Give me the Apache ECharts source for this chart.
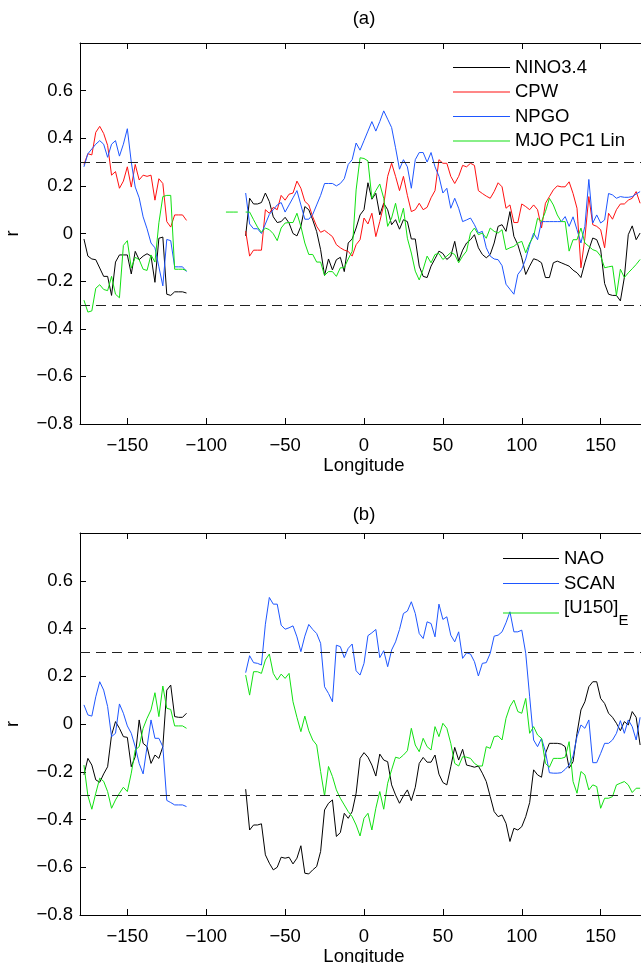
<!DOCTYPE html>
<html><head><meta charset="utf-8">
<script src="https://cdn.jsdelivr.net/npm/echarts@6/dist/echarts.min.js"></script>
<style>html,body{margin:0;padding:0;background:#fff}#c{width:641px;height:963px}</style>
</head><body><div id="c"></div>
<script>
// ---------- axis tick values ----------
const xTicks = [-150, -100, -50, 0, 50, 100, 150];
const thresholds = [0.3, -0.3];

// ---------- longitude grids (2.5 degree spacing) ----------
function lonRange(a, b) { const r = []; for (let v = a; v <= b + 1e-9; v += 2.5) r.push(+v.toFixed(1)); return r; }
const lonWest = lonRange(-177.5, -112.5);   // 27 points
const lonMid = [-87.5, -85, -82.5, -80];
const lonEast = lonRange(-75, 175);         // 101 points

// ---------- panel (a) ----------
const nino34West = [-0.023,-0.095,-0.107,-0.11,-0.145,-0.18,-0.18,-0.26,-0.12,-0.09,-0.09,-0.09,-0.17,-0.075,-0.11,-0.095,-0.085,-0.095,-0.205,-0.02,-0.015,-0.255,-0.26,-0.245,-0.245,-0.245,-0.25];
const nino34East = [-0.01,0.148,0.124,0.124,0.13,0.17,0.134,0.07,0.046,0.05,0.068,0.044,0.0,-0.01,0.03,0.113,0.10,0.057,0.008,-0.068,-0.176,-0.107,-0.153,-0.11,-0.10,-0.16,-0.04,-0.023,0.023,0.078,0.10,0.213,0.144,0.169,0.078,0.127,0.10,0.037,0.058,0.018,0.058,0.05,-0.023,-0.023,-0.137,
 -0.18,-0.185,-0.137,-0.106,-0.074,-0.084,-0.109,-0.095,-0.033,-0.116,-0.07,-0.04,-0.026,-0.005,-0.06,-0.088,-0.102,-0.088,-0.04,0.03,0.037,0.009,0.092,-0.012,-0.047,-0.102,-0.172,-0.137,-0.106,-0.112,-0.123,-0.185,-0.185,-0.123,-0.116,-0.123,-0.13,-0.137,-0.154,-0.165,-0.185,-0.123,-0.068,-0.019,-0.026,-0.068,-0.21,-0.255,-0.26,-0.26,-0.283,-0.185,-0.005,0.032,-0.026,0.002];
const cpwWest = [0.29,0.335,0.33,0.425,0.45,0.42,0.37,0.245,0.26,0.19,0.22,0.28,0.195,0.29,0.225,0.245,0.24,0.245,0.14,0.23,0.21,0.05,0.027,0.078,0.078,0.078,0.055];
const cpwEast = [0.01,-0.095,-0.07,-0.07,-0.07,0.10,0.085,0.11,0.10,0.16,0.14,0.165,0.17,0.22,0.19,0.135,0.12,0.07,0.03,0.005,0.013,0.0,-0.013,-0.047,-0.06,-0.07,-0.075,-0.095,-0.047,-0.026,0.065,0.04,0.085,-0.013,0.05,0.12,0.24,0.295,0.24,0.18,0.24,0.16,0.092,0.10,0.127,
 0.10,0.11,0.15,0.18,0.31,0.295,0.295,0.24,0.21,0.24,0.286,0.28,0.295,0.286,0.18,0.168,0.157,0.148,0.176,0.213,0.196,0.106,0.12,0.046,0.046,0.124,0.113,0.1,0.12,0.1,0.023,0.127,0.155,0.183,0.2,0.196,0.196,0.217,0.168,0.106,-0.144,-0.02,0.155,0.037,0.03,0.016,-0.06,0.085,0.06,0.1,0.124,0.124,0.14,0.148,0.176,0.127];
const npgoWest = [0.28,0.335,0.355,0.375,0.39,0.375,0.32,0.375,0.39,0.325,0.375,0.44,0.30,0.195,0.15,0.07,0.02,-0.04,-0.06,-0.14,-0.22,-0.025,-0.03,-0.14,-0.14,-0.14,-0.16];
const npgoEast = [0.17,0.04,0.02,0.02,0.0,0.04,0.08,0.10,0.12,0.13,0.09,0.12,0.15,0.18,0.12,0.06,0.06,0.08,0.12,0.16,0.21,0.21,0.21,0.20,0.21,0.23,0.29,0.31,0.38,0.35,0.39,0.43,0.47,0.43,0.47,0.515,0.48,0.445,0.36,0.27,0.31,0.28,0.19,0.31,0.34,
 0.34,0.30,0.34,0.28,0.24,0.17,0.19,0.106,0.148,0.106,0.05,0.057,0.065,0.037,0.002,0.009,-0.06,-0.095,-0.107,-0.11,-0.135,-0.213,-0.234,-0.255,-0.172,-0.15,-0.107,-0.047,0.002,-0.026,0.05,0.05,0.05,0.05,0.05,0.05,0.071,0.03,0.07,0.016,-0.04,0.03,0.227,0.044,0.078,0.044,0.057,0.168,0.162,0.148,0.155,0.152,0.152,0.155,0.166,0.176];
const mjoWest = [-0.28,-0.33,-0.325,-0.23,-0.215,-0.235,-0.24,-0.18,-0.255,-0.27,-0.05,-0.03,-0.145,-0.10,-0.11,-0.15,-0.155,-0.09,-0.12,0.045,0.155,0.16,0.16,-0.15,-0.15,-0.15,-0.155];
const mjoMid = [0.09,0.09,0.09,0.09];
const mjoEast = [0.09,0.09,0.058,0.027,0.005,0.023,0.016,-0.001,-0.03,0.023,0.044,0.046,0.046,0.085,0.03,-0.04,-0.088,-0.088,-0.12,-0.12,-0.176,-0.16,-0.16,-0.18,-0.144,-0.144,-0.107,-0.075,0.183,0.318,0.315,0.305,0.148,0.18,0.208,0.148,0.03,0.065,0.127,0.046,0.106,-0.02,-0.082,-0.158,-0.195,
 -0.15,-0.095,-0.123,-0.088,-0.084,-0.109,-0.095,-0.08,-0.088,-0.123,-0.095,-0.074,0.002,0.023,-0.005,0.002,-0.02,0.023,0.009,0.002,0.016,-0.068,-0.06,-0.054,-0.04,-0.033,-0.081,-0.04,-0.012,0.064,0.05,0.092,0.148,0.12,0.078,0.05,0.05,-0.074,-0.026,-0.026,0.023,-0.04,-0.054,-0.068,-0.074,-0.095,-0.144,-0.14,-0.137,-0.26,-0.15,-0.185,-0.165,-0.148,-0.13,-0.109];

// ---------- panel (b) ----------
const naoWest = [-0.213,-0.144,-0.172,-0.234,-0.244,-0.209,-0.179,-0.046,0.01,-0.018,-0.053,-0.056,-0.179,-0.137,0.017,-0.081,-0.095,-0.165,-0.13,-0.144,-0.095,0.142,0.163,0.031,0.028,0.028,0.045];
const naoEast = [-0.273,-0.444,-0.423,-0.423,-0.418,-0.548,-0.583,-0.611,-0.6,-0.558,-0.562,-0.558,-0.586,-0.562,-0.51,-0.625,-0.628,-0.611,-0.597,-0.534,-0.36,-0.332,-0.318,-0.471,-0.455,-0.374,-0.395,-0.367,-0.29,-0.144,-0.12,-0.139,-0.172,-0.218,-0.126,-0.151,-0.158,-0.255,-0.297,-0.332,-0.301,-0.276,-0.321,-0.265,-0.165,
 -0.14,-0.16,-0.16,-0.13,-0.21,
 -0.245,-0.255,-0.179,-0.098,-0.151,-0.106,-0.172,-0.176,-0.181,-0.176,-0.206,-0.241,-0.304,-0.367,-0.388,-0.381,-0.416,-0.492,-0.437,-0.444,-0.43,-0.388,-0.329,-0.192,-0.213,-0.223,-0.123,-0.081,-0.081,-0.081,-0.084,-0.095,-0.185,-0.158,-0.039,0.059,0.093,0.156,0.177,0.177,0.107,0.086,0.045,0.028,0.003,-0.028,0.01,-0.004,0.052,0.028,-0.088];
const scanWest = [0.08,0.038,0.033,0.114,0.177,0.142,0.073,-0.053,-0.039,0.084,0.045,-0.008,-0.039,-0.095,-0.165,-0.209,-0.095,0.017,-0.06,-0.06,-0.095,-0.32,-0.329,-0.339,-0.339,-0.339,-0.346];
const scanEast = [0.215,0.286,0.257,0.254,0.247,0.418,0.53,0.502,0.502,0.414,0.397,0.403,0.411,0.365,0.303,0.368,0.417,0.396,0.379,0.338,0.156,0.128,0.093,0.33,0.324,0.278,0.317,0.335,0.223,0.205,0.254,0.37,0.382,0.396,0.278,0.307,0.24,0.31,0.344,0.396,0.463,0.473,0.512,0.463,0.379,
 0.358,0.428,0.421,0.365,0.502,
 0.438,0.449,0.372,0.344,0.386,0.275,0.298,0.293,0.261,0.201,0.254,0.257,0.296,0.368,0.372,0.386,0.424,0.47,0.386,0.386,0.393,0.296,0.114,-0.067,-0.095,-0.06,-0.116,-0.204,-0.206,-0.206,-0.204,-0.19,-0.172,-0.134,-0.053,-0.004,-0.018,0.017,-0.162,-0.162,-0.123,-0.081,-0.081,-0.067,-0.039,0.014,-0.039,0.017,-0.011,-0.067,0.028];
const u150West = [-0.172,-0.30,-0.357,-0.29,-0.227,-0.24,-0.283,-0.353,-0.318,-0.29,-0.265,-0.283,-0.206,-0.109,-0.095,-0.018,0.024,0.059,0.131,0.031,0.159,0.066,0.061,-0.008,-0.008,-0.008,-0.018];
const u150East = [0.205,0.121,0.219,0.219,0.212,0.268,0.293,0.212,0.184,0.209,0.191,0.212,0.093,0.028,-0.032,0.033,-0.028,-0.067,-0.088,-0.199,-0.301,-0.178,-0.22,-0.276,-0.311,-0.339,-0.367,-0.388,-0.423,-0.469,-0.395,-0.374,-0.444,-0.353,-0.283,-0.357,-0.248,-0.192,-0.139,-0.144,-0.13,-0.112,-0.018,-0.088,-0.116,
 -0.06,-0.095,-0.109,-0.011,-0.053,
 0.003,-0.018,-0.081,-0.165,-0.176,-0.137,-0.139,-0.144,-0.165,-0.176,-0.176,-0.095,-0.102,-0.053,-0.05,-0.067,0.024,0.073,0.1,0.052,0.045,0.107,-0.039,-0.011,-0.046,-0.06,-0.165,-0.181,-0.144,-0.144,-0.144,-0.139,-0.074,-0.241,-0.29,-0.199,-0.213,-0.276,-0.255,-0.262,-0.353,-0.311,-0.311,-0.304,-0.255,-0.248,-0.241,-0.255,-0.287,-0.269,-0.269];

// ---------- build ----------
function build(west, east, mid) {
  const d = [];
  west.forEach((v, i) => d.push([lonWest[i], v]));
  d.push([-100, '-']);
  if (mid) { mid.forEach((v, i) => d.push([lonMid[i], v])); d.push([-77.5, '-']); }
  east.forEach((v, i) => d.push([lonEast[i], v]));
  return d;
}
const FF = '"Liberation Sans", Arial, Helvetica, sans-serif';
const FS = 18.5;
const C = { k: '#000000', r: '#ff1010', b: '#1e56ff', g: '#12e012' };
const fmtX = v => v < 0 ? '\u2212' + Math.abs(v) : String(v);
const fmtY = v => { const r = Math.round(v * 10) / 10; if (r >= 0.79) return ''; if (r === 0) return '0'; return (r < 0 ? '\u2212' : '') + Math.abs(r).toFixed(1); };

const grids = [
  { left: 80, top: 43, width: 568, height: 381, containLabel: false, outerBoundsMode: 'none' },
  { left: 80, top: 533, width: 568, height: 382, containLabel: false, outerBoundsMode: 'none' }
];
const xAxes = [], yAxes = [];
grids.forEach((g, gi) => {
  const line = { show: true, onZero: false, lineStyle: { color: '#000', width: 1 } };
  xAxes.push({ gridIndex: gi, type: 'value', min: -180, max: 180, position: 'bottom', axisLine: line,
    axisTick: { show: true, inside: true, length: 6, customValues: xTicks, lineStyle: { color: '#000' } },
    axisLabel: { customValues: xTicks, formatter: fmtX, color: '#000', fontSize: FS, fontFamily: FF, margin: 12 },
    splitLine: { show: false }, name: 'Longitude', nameLocation: 'middle', nameGap: 32,
    nameTextStyle: { color: '#000', fontSize: FS, fontFamily: FF } });
  xAxes.push({ gridIndex: gi, type: 'value', min: -180, max: 180, position: 'top', axisLine: line,
    axisTick: { show: true, inside: true, length: 6, customValues: xTicks, lineStyle: { color: '#000' } },
    axisLabel: { show: false }, splitLine: { show: false } });
  yAxes.push({ gridIndex: gi, type: 'value', min: -0.8, max: 0.8, interval: 0.2, position: 'left', axisLine: line,
    axisTick: { show: true, inside: true, length: 6, lineStyle: { color: '#000' } },
    axisLabel: { formatter: fmtY, color: '#000', fontSize: FS, fontFamily: FF, margin: 7 },
    splitLine: { show: false }, name: 'r', nameLocation: 'middle', nameGap: 58,
    nameTextStyle: { color: '#000', fontSize: FS, fontFamily: FF } });
  yAxes.push({ gridIndex: gi, type: 'value', min: -0.8, max: 0.8, interval: 0.2, position: 'right', axisLine: line,
    axisTick: { show: true, inside: true, length: 6, lineStyle: { color: '#000' } },
    axisLabel: { show: false }, splitLine: { show: false } });
});

function ser(name, color, data, gi, withMark) {
  const s = { name, type: 'line', data, xAxisIndex: gi * 2, yAxisIndex: gi * 2, showSymbol: false, symbol: 'none',
    connectNulls: false, lineStyle: { color, width: 1 }, itemStyle: { color }, z: 3, animation: false };
  if (withMark) s.markLine = { silent: true, symbol: ['none', 'none'], label: { show: false },
    lineStyle: { color: '#222', width: 1, type: [10, 6] }, data: thresholds.map(t => ({ yAxis: t })) };
  return s;
}
const series = [
  ser('NINO3.4', C.k, build(nino34West, nino34East), 0, true),
  ser('CPW', C.r, build(cpwWest, cpwEast), 0),
  ser('NPGO', C.b, build(npgoWest, npgoEast), 0),
  ser('MJO PC1 Lin', C.g, build(mjoWest, mjoEast, mjoMid), 0),
  ser('NAO', C.k, build(naoWest, naoEast), 1, true),
  ser('SCAN', C.b, build(scanWest, scanEast), 1),
  ser('[U150]_E', C.g, build(u150West, u150East), 1)
];

const chart = echarts.init(document.getElementById('c'), null, { renderer: 'canvas' });
chart.setOption({
  backgroundColor: '#fff',
  animation: false,
  title: [
    { text: '(a)', left: 364, top: 9, textAlign: 'center', padding: 0, textStyle: { fontSize: FS, fontWeight: 'normal', color: '#000', fontFamily: FF } },
    { text: '(b)', left: 364, top: 505, textAlign: 'center', padding: 0, textStyle: { fontSize: FS, fontWeight: 'normal', color: '#000', fontFamily: FF } }
  ],
  legend: [
    { data: ['NINO3.4', 'CPW', 'NPGO', 'MJO PC1 Lin'], orient: 'vertical', left: 453, top: 57, padding: 0,
      icon: 'rect', itemWidth: 57, itemHeight: 1, itemGap: 3.5, selectedMode: false,
      textStyle: { fontSize: FS, lineHeight: 21, color: '#000', fontFamily: FF } },
    { data: ['NAO', 'SCAN', '[U150]_E'], orient: 'vertical', left: 503, top: 548, padding: 0,
      icon: 'rect', itemWidth: 56, itemHeight: 1, itemGap: 4, selectedMode: false,
      formatter: n => n === '[U150]_E' ? '{m|[U150]}{s|E}' : n,
      textStyle: { fontSize: FS, lineHeight: 21, color: '#000', fontFamily: FF,
        rich: { m: { fontSize: FS, fontFamily: FF, color: '#000', verticalAlign: 'top', lineHeight: 21 },
                s: { fontSize: 15, fontFamily: FF, color: '#000', verticalAlign: 'bottom', lineHeight: 30 } } } }
  ],
  grid: grids,
  xAxis: xAxes,
  yAxis: yAxes,
  series
});
</script></body></html>
